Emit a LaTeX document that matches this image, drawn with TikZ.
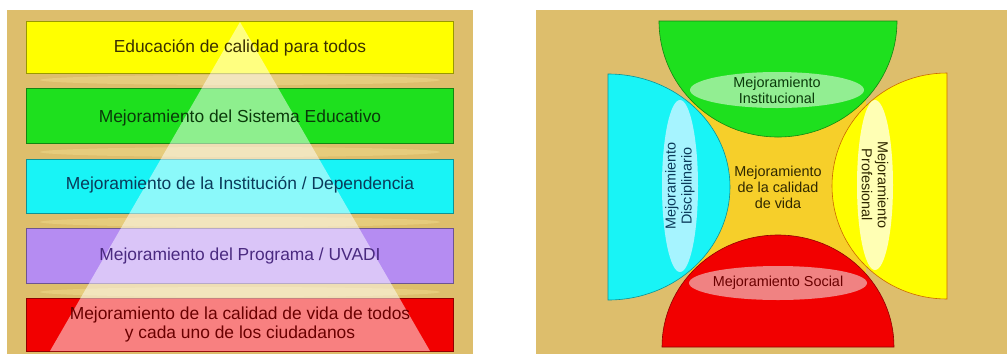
\documentclass[tikz,border=0pt]{standalone}
\usepackage{fontspec}
\setmainfont{Liberation Sans}

\definecolor{fondo}{HTML}{DDBE6C}
\definecolor{claro}{HTML}{F4E394}
\definecolor{amarillo}{HTML}{FFFF00}
\definecolor{verde}{HTML}{1EE01E}
\definecolor{celeste}{HTML}{18F4F6}
\definecolor{lila}{HTML}{B58CF2}
\definecolor{rojo}{HTML}{F20000}
\definecolor{dorado}{HTML}{F6CF2A}
\definecolor{verdeclaro}{HTML}{92EE92}
\definecolor{celesteclaro}{HTML}{A6F4FF}
\definecolor{amarilloclaro}{HTML}{FFFFB4}
\definecolor{rosa}{HTML}{F08282}
\definecolor{txtamarillo}{HTML}{3A3000}
\definecolor{txtverde}{HTML}{0A3A0A}
\definecolor{txtceleste}{HTML}{0A3A5A}
\definecolor{txtlila}{HTML}{4A2A80}
\definecolor{txtrojo}{HTML}{6A0000}
\definecolor{txtosc}{HTML}{302800}

\tikzset{
  barra/.style={font=\fontsize{8.7}{9.5}\selectfont, align=center},
  etiq/.style={font=\fontsize{7.2}{8}\selectfont, align=center, inner sep=0pt},
  mancha/.style={fill=claro, opacity=0.4},
}

\begin{document}
\begin{tikzpicture}[x=0.5pt,y=0.5pt,yscale=-1]
\useasboundingbox (0,0) rectangle (1008,355);

%backgrounds, light streaks between the bars
\fill[fondo] (7,10) rectangle (473,354);
\fill[fondo] (536,10) rectangle (1007,354);
\foreach \y in {80, 152, 222, 292}{
	\fill[mancha] (240,\y) ellipse[x radius=200,y radius=5];
}

%left panel: bars and pyramid
\foreach \ya/\yb/\col in {21/73/amarillo, 88/143/verde, 159/213/celeste, 228/283/lila, 298/351/rojo}{
	\filldraw[fill=\col,draw=\col!60!black,line width=0.3pt] (26,\ya) rectangle (453,\yb);
}
\fill[white,opacity=0.5] (240,22) -- (430,351) -- (50,351) -- cycle;

\node[barra,text=txtamarillo] (educ) at (240,48) {Educación de calidad para todos};
\node[barra,text=txtverde] (sist) at (240,118) {Mejoramiento del Sistema Educativo};
\node[barra,text=txtceleste] (inst) at (240,185) {Mejoramiento de la Institución / Dependencia};
\node[barra,text=txtlila] (prog) at (240,256) {Mejoramiento del Programa / UVADI};
\node[barra,text=txtrojo] (vida) at (240,324) {Mejoramiento de la calidad de vida de todos\\y cada uno de los ciudadanos};

%right panel: four half ellipses round the centre
\fill[dorado] (690,95) rectangle (866,277);
\filldraw[fill=celeste,draw=celeste!60!black,line width=0.3pt] (608,74) arc[start angle=-90,end angle=90,x radius=122,y radius=113] -- cycle;
\filldraw[fill=amarillo,draw=orange!80!black,line width=0.3pt] (947,73) arc[start angle=270,end angle=90,x radius=115,y radius=113] -- cycle;
\filldraw[fill=verde,draw=verde!60!black,line width=0.3pt] (659,21) arc[start angle=180,end angle=0,x radius=119,y radius=116] -- cycle;
\filldraw[fill=rojo,draw=rojo!60!black,line width=0.3pt] (662,347) arc[start angle=180,end angle=360,x radius=116,y radius=112] -- cycle;

%inner ellipses
\fill[verdeclaro] (777,90) ellipse[x radius=87,y radius=18];
\fill[celesteclaro] (680,186) ellipse[x radius=18,y radius=86];
\fill[amarilloclaro] (875,185) ellipse[x radius=18,y radius=85];
\fill[rosa] (778,283) ellipse[x radius=89,y radius=17];

\node[etiq,text=txtverde] (minst) at (777,90) {Mejoramiento\\Institucional};
\node[etiq,text=txtosc] (mcal) at (778,187) {Mejoramiento\\de la calidad\\de vida};
\node[etiq,text=txtrojo] (msoc) at (778,283) {Mejoramiento Social};
\node[etiq,text=txtceleste,rotate=90] (mdis) at (680,186) {Mejoramiento\\Disciplinario};
\node[etiq,text=txtosc,rotate=-90] (mpro) at (875,185) {Mejoramiento\\Profesional};
\end{tikzpicture}
\end{document}
